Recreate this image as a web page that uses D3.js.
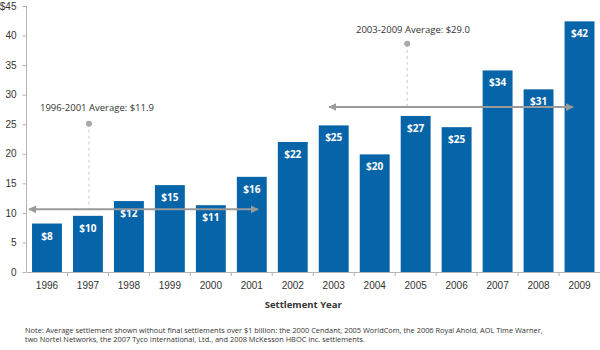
<!DOCTYPE html>
<html>
<head>
<meta charset="utf-8">
<script src="https://cdn.jsdelivr.net/npm/d3@7"></script>
<style>
  body { margin: 0; background: #fff; }
  svg { display: block; font-family: "Open Sans", sans-serif; }
</style>
</head>
<body>
<div id="chart"></div>
<script>
var width = 600, height = 350;
var padding = { t: 6, r: 0, b: 78, l: 26.5 };
var chartWidth = width - padding.l - padding.r;
var chartHeight = height - padding.t - padding.b;

// data
var years = ["1996", "1997", "1998", "1999", "2000", "2001", "2002", "2003", "2004", "2005", "2006", "2007", "2008", "2009"];
var values = [8.2, 9.5, 12.0, 14.7, 11.3, 16.1, 22.0, 24.8, 19.9, 26.4, 24.5, 34.1, 30.9, 42.4];
var barLabels = ["$8", "$10", "$12", "$15", "$11", "$16", "$22", "$25", "$20", "$27", "$25", "$34", "$31", "$42"];
var yTicks = [0, 5, 10, 15, 20, 25, 30, 35, 40, 45];

// average annotations: arrow level, dot level, label
var avgLabels = ["1996-2001 Average: $11.9", "2003-2009 Average: $29.0"];
var avgArrowLevel = [10.6, 27.9];
var avgDotLevel = [25.1, 38.6];
var avgTextLevel = [27.3, 40.4];
var avgFrom = ["1996", "2003"];
var avgTo = ["2001", "2009"];
var avgDotYear = ["1997", "2005"];

var note = [
  "Note: Average settlement shown without final settlements over $1 billion: the 2000 Cendant, 2005 WorldCom, the 2006 Royal Ahold, AOL Time Warner,",
  "two Nortel Networks, the 2007 Tyco International, Ltd., and 2008 McKesson HBOC Inc. settlements."
];

var barColor = "#0664a8";
var axisColor = "#b3b3b3";
var arrowColor = "#9a9a9a";
var textColor = "#333";

var svg = d3.select("#chart").append("svg")
    .attr("width", width)
    .attr("height", height);

svg.append("defs").append("marker")
    .attr("id", "head")
    .attr("viewBox", "0 0 10 10")
    .attr("refX", 9).attr("refY", 5)
    .attr("markerWidth", 4).attr("markerHeight", 4)
    .attr("markerUnits", "strokeWidth")
    .attr("orient", "auto-start-reverse")
    .append("path")
    .attr("d", "M0,0L10,5L0,10Z")
    .attr("fill", arrowColor);

var g = svg.append("g").attr("transform", `translate(${padding.l}, ${padding.t})`);

var x = d3.scaleBand().domain(years).range([0, chartWidth]).paddingInner(0.27).paddingOuter(0.135);
var y = d3.scaleLinear().domain([0, 45]).range([chartHeight, 0]);

//Y axis
var yAxis = g.append("g")
    .call(d3.axisLeft(y).tickValues(yTicks).tickSize(4).tickPadding(6)
        .tickFormat(d => d === 45 ? "$45" : d));
yAxis.select(".domain").attr("stroke", axisColor).attr("d", `M0,${y(45)}V${y(0)}`);
yAxis.selectAll(".tick line").attr("stroke", axisColor);
yAxis.selectAll("text").attr("fill", textColor).style("font-size", "10px");

//X axis, ticks on band boundaries
var xAxis = g.append("g").attr("transform", `translate(0, ${chartHeight})`)
    .call(d3.axisBottom(x).tickSize(0).tickPadding(10));
xAxis.select(".domain").attr("stroke", axisColor);
xAxis.selectAll("text").attr("fill", textColor).style("font-size", "10px");
xAxis.selectAll(".sep").data(years.slice(1)).enter().append("line")
    .attr("class", "sep")
    .attr("x1", d => x(d) - x.step() * x.paddingInner() / 2)
    .attr("x2", d => x(d) - x.step() * x.paddingInner() / 2)
    .attr("y1", 0).attr("y2", 4)
    .attr("stroke", axisColor);

g.append("text")
    .attr("x", chartWidth / 2 - 10)
    .attr("y", chartHeight + 36)
    .attr("text-anchor", "middle")
    .attr("fill", textColor)
    .style("font-size", "9.5px")
    .style("font-weight", "bold")
    .text("Settlement Year");

//Bars
g.selectAll(".bar").data(values).enter().append("rect")
    .attr("class", "bar")
    .attr("x", (d, i) => x(years[i]))
    .attr("y", d => y(d))
    .attr("width", x.bandwidth())
    .attr("height", d => y(0) - y(d))
    .attr("fill", barColor);

g.selectAll(".bar-label").data(values).enter().append("text")
    .attr("class", "bar-label")
    .attr("x", (d, i) => x(years[i]) + x.bandwidth() / 2)
    .attr("y", d => y(d) + 16)
    .attr("text-anchor", "middle")
    .attr("fill", "#fff")
    .style("font-size", "10px")
    .style("font-weight", "bold")
    .text((d, i) => barLabels[i]);

//Average annotations
avgLabels.forEach((label, i) => {
    var dotX = x(avgDotYear[i]) + x.bandwidth() / 2 + (i === 0 ? 1 : -8.5);
    g.append("line")
        .attr("x1", dotX).attr("x2", dotX)
        .attr("y1", y(avgDotLevel[i])).attr("y2", y(avgArrowLevel[i]))
        .attr("stroke", "#c8c8c8")
        .attr("stroke-width", 1)
        .attr("stroke-dasharray", "3,3");
    g.append("circle")
        .attr("cx", dotX).attr("cy", y(avgDotLevel[i]))
        .attr("r", 3)
        .attr("fill", "#aaa");
    var x1 = i === 0 ? 2.5 : x(avgFrom[i]) + x.bandwidth() / 2 - 4.5;
    var x2 = x(avgTo[i]) + x.bandwidth() / 2 + (i === 0 ? 6 : -6.5);
    g.append("line")
        .attr("x1", x1).attr("x2", x2)
        .attr("y1", y(avgArrowLevel[i])).attr("y2", y(avgArrowLevel[i]))
        .attr("stroke", arrowColor)
        .attr("stroke-width", 2)
        .attr("marker-start", "url(#head)")
        .attr("marker-end", "url(#head)");
    g.append("text")
        .attr("x", i === 0 ? 13.5 : 329.5)
        .attr("y", y(avgTextLevel[i]))
        .attr("fill", textColor)
        .style("font-size", "9.5px")
        .text(label);
});

//Note
svg.append("g").selectAll("text").data(note).enter().append("text")
    .attr("x", 25)
    .attr("y", (d, i) => 333 + i * 9)
    .attr("fill", textColor)
    .style("font-size", "7.4px")
    .text(d => d);
</script>
</body>
</html>
